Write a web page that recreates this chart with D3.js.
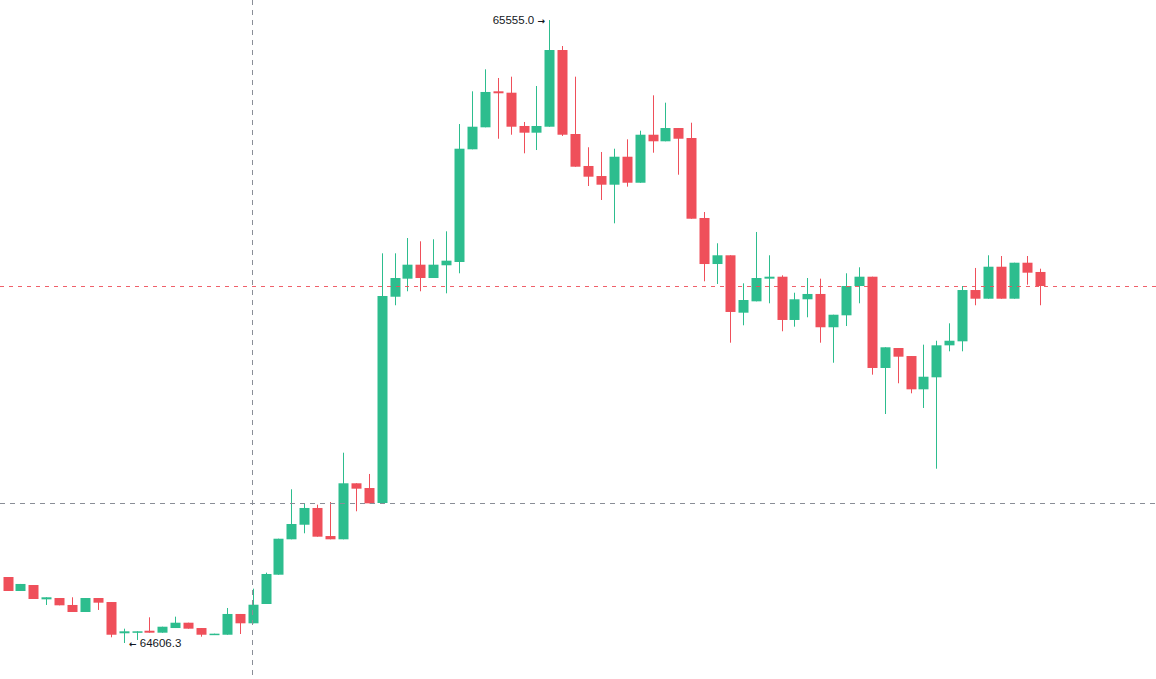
<!DOCTYPE html>
<html><head><meta charset="utf-8">
<script src="https://cdn.jsdelivr.net/npm/d3@7"></script>
<style>html,body{margin:0;padding:0;background:#fff;overflow:hidden}</style>
</head><body><svg id="chart" width="1156" height="679"></svg>
<script>
const opens = [64706.8,64685.5,64694.6,64672.8,64674.8,64664.2,64653.5,64674.8,64668.7,64621.1,
64622.0,64625.0,64622.0,64629.1,64637.2,64629.1,64619.5,64618.9,64650.5,64636.3,
64665.7,64710.3,64764.2,64786.4,64811.9,64769.2,64764.2,64849.5,64842.3,64819.5,
65133.6,65161.1,65182.4,65162.1,65181.5,65186.5,65358.1,65391.6,65446.4,65444.3,
65393.6,65383.4,65392.5,65509.3,65381.4,65332.7,65317.4,65304.2,65346.8,65307.2,
65380.3,65370.3,65390.5,65375.3,65253.5,65183.4,65196.7,65109.3,65126.6,65161.1,
65164.1,65098.2,65129.7,65137.8,65087.1,65105.3,65149.9,65164.1,65025.1,65055.5,
65043.3,64992.6,65010.9,65059.6,65065.7,65143.8,65130.6,65179.3,65130.6,65185.4,65171.3];
const highs = [64706.8,64696.2,64694.6,64675.9,64674.8,64675.9,64674.8,64674.8,64668.7,64628.1,
64624.1,64645.4,64631.1,64646.4,64637.2,64629.1,64620.5,64659.6,64650.5,64689.0,
64713.4,64765.1,64840.4,64819.0,64816.9,64821.0,64896.1,64849.5,64863.7,65199.7,
65199.7,65223.0,65218.0,65221.1,65233.2,65396.6,65446.4,65479.9,65466.7,65468.7,
65399.7,65454.5,65555.0,65515.4,65468.7,65361.2,65354.0,65359.0,65373.3,65386.4,
65440.3,65429.1,65390.5,65398.6,65262.6,65215.0,65196.7,65154.0,65232.2,65196.7,
65166.2,65139.7,65162.1,65161.1,65106.2,65169.3,65178.4,65164.1,65056.6,65055.5,
65043.3,65060.6,65066.6,65093.1,65149.9,65177.4,65196.7,65195.6,65185.4,65195.6,65176.3];
const lows = [64685.5,64685.5,64673.3,64664.2,64663.7,64653.5,64653.5,64656.6,64615.0,64606.3,
64610.9,64622.0,64622.0,64629.1,64628.1,64615.9,64619.5,64618.9,64620.0,64636.3,
64665.7,64710.3,64764.2,64773.4,64768.2,64764.2,64764.2,64806.9,64819.0,64819.5,
65120.6,65141.9,65141.9,65162.1,65138.8,65169.3,65358.1,65391.6,65374.2,65380.3,
65352.0,65357.0,65392.5,65378.4,65331.6,65302.2,65280.9,65245.4,65301.2,65307.2,
65352.9,65370.3,65319.4,65252.4,65157.1,65153.0,65063.6,65090.1,65126.6,65123.6,
65081.0,65088.0,65102.3,65063.6,65033.1,65089.0,65123.6,65014.9,64955.0,65001.8,
64986.5,64964.2,64871.7,65050.5,65050.5,65120.6,65130.6,65130.6,65130.6,65151.9,65120.6];
const closes = [64685.5,64696.2,64673.3,64675.9,64663.7,64653.5,64674.8,64667.7,64618.9,64624.1,
64624.1,64622.0,64631.1,64637.2,64628.1,64618.9,64620.5,64650.5,64636.3,64664.6,
64711.4,64765.1,64787.5,64811.9,64768.2,64764.2,64849.5,64841.3,64819.0,65134.7,
65162.1,65182.4,65162.1,65182.4,65188.5,65359.0,65392.5,65445.4,65443.4,65392.5,
65383.4,65393.6,65509.3,65380.3,65331.6,65316.4,65304.2,65346.8,65307.2,65380.3,
65370.3,65390.5,65374.2,65252.4,65183.4,65196.7,65110.4,65128.6,65162.1,65164.1,
65098.2,65129.7,65137.8,65087.1,65106.2,65149.9,65164.1,65025.1,65056.6,65042.3,
64992.6,65011.8,65059.6,65066.6,65143.8,65130.6,65179.3,65130.6,65185.4,65170.2,65149.9];
const crosshairIndex = 19;
const crosshairPrice = 64819.5;

const W = 1156, H = 679;
const UP = "#2dbd8e", DOWN = "#ef4f5a";
const n = opens.length;
const bars = d3.range(n).map(i => ({i, o: opens[i], h: highs[i], l: lows[i], c: closes[i]}));

const x = d3.scaleLinear().domain([0, n - 1]).range([7.5, 7.5 + (n - 1) * 12.9]);
const y = d3.scaleLinear().domain([d3.min(lows), d3.max(highs)]).range([643, 20]);

const svg = d3.select("#chart");
svg.append("rect").attr("width", W).attr("height", H).attr("fill", "#fff");

const g = svg.append("g");
const bodyW = 10;
const cand = g.selectAll("g.c").data(bars).join("g").attr("class", "c");
cand.append("line")
  .attr("x1", d => Math.round(x(d.i)) + 0.5).attr("x2", d => Math.round(x(d.i)) + 0.5)
  .attr("y1", d => y(d.h)).attr("y2", d => y(d.l))
  .attr("stroke", d => d.c >= d.o ? UP : DOWN).attr("stroke-width", 1);
cand.append("rect")
  .attr("x", d => Math.round(x(d.i)) + 0.5 - bodyW / 2)
  .attr("width", bodyW)
  .attr("y", d => Math.min(y(d.o), y(d.c)))
  .attr("height", d => Math.max(1.5, Math.abs(y(d.o) - y(d.c))))
  .attr("fill", d => d.c >= d.o ? UP : DOWN);

// last price line
const last = closes[n - 1];
svg.append("line").attr("x1", 0).attr("x2", W)
  .attr("y1", Math.round(y(last)) + 0.5).attr("y2", Math.round(y(last)) + 0.5)
  .attr("stroke", DOWN).attr("stroke-width", 1).attr("stroke-dasharray", "4,5").attr("opacity", 0.9);

// crosshair
svg.append("line").attr("x1", 0).attr("x2", W)
  .attr("y1", Math.round(y(crosshairPrice)) + 0.5).attr("y2", Math.round(y(crosshairPrice)) + 0.5)
  .attr("stroke", "#8a8e97").attr("stroke-width", 1).attr("stroke-dasharray", "5,5");
svg.append("line")
  .attr("x1", Math.round(x(crosshairIndex)) - 0.5).attr("x2", Math.round(x(crosshairIndex)) - 0.5)
  .attr("y1", 0).attr("y2", H)
  .attr("stroke", "#8a8e97").attr("stroke-width", 1).attr("stroke-dasharray", "5,5");

// high / low labels
const fmt = d3.format(".1f");
const hi = d3.maxIndex(highs), lo = d3.minIndex(lows);
const FONT = "Liberation Sans, Arial, sans-serif";
const tHi = svg.append("text")
  .attr("x", Math.round(x(hi)) - 4).attr("y", y(highs[hi]))
  .attr("dy", "0.35em").attr("text-anchor", "end")
  .attr("font-family", FONT).attr("font-size", 11.5)
  .attr("fill", "#131722");
tHi.append("tspan").text(fmt(highs[hi]) + " ");
tHi.append("tspan").attr("font-family", "DejaVu Sans").attr("font-size", 9).attr("font-weight", "bold").text("\u2192");

const tLo = svg.append("text")
  .attr("x", Math.round(x(lo)) + 5).attr("y", y(lows[lo]))
  .attr("dy", "0.35em").attr("text-anchor", "start")
  .attr("font-family", FONT).attr("font-size", 11.5)
  .attr("fill", "#131722");
tLo.append("tspan").attr("font-family", "DejaVu Sans").attr("font-size", 9).attr("font-weight", "bold").text("\u2190");
tLo.append("tspan").text(" " + fmt(lows[lo]));
</script>
</body></html>
